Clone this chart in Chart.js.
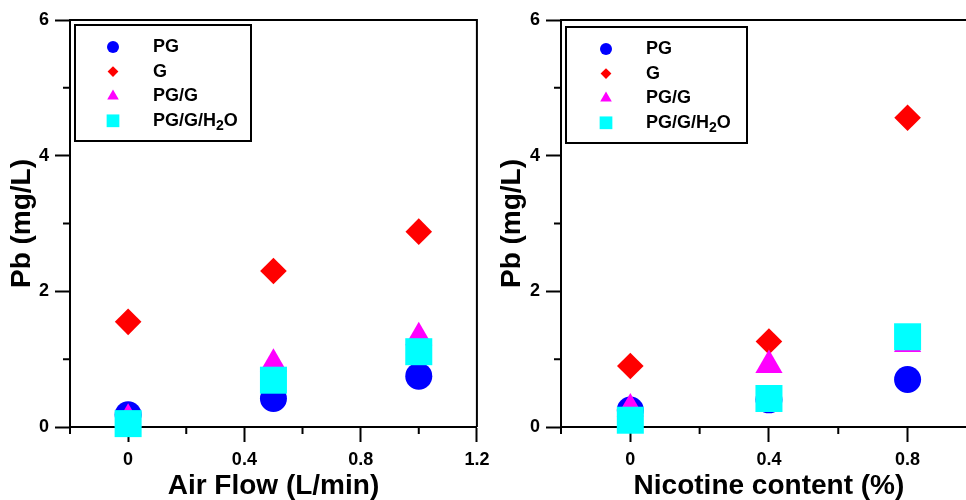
<!DOCTYPE html>
<html>
<head>
<meta charset="utf-8">
<script src="https://cdn.jsdelivr.net/npm/chart.js@4.4.1/dist/chart.umd.min.js"></script>
<style>
  html, body { margin: 0; padding: 0; background: #fff; overflow: hidden; }
  #wrap { position: relative; width: 966px; height: 500px; overflow: hidden; }
  canvas { position: absolute; top: 0; }
  #airChart { left: 0; }
  #nicChart { left: 490px; }
</style>
</head>
<body>
<div id="wrap">
  <canvas id="airChart" width="496" height="500"></canvas>
  <canvas id="nicChart" width="506" height="500"></canvas>
</div>
<script>
  // x values of both panels
  const airFlow = [0, 0.5, 1.0];
  const nicotine = [0, 0.4, 0.8];

  const seriesNames = ["PG", "G", "PG/G", "PG/G/H2O"];

  // Pb (mg/L) vs air flow
  const airPG = [0.18, 0.42, 0.75];
  const airG = [1.55, 2.3, 2.88];
  const airPGG = [0.12, 0.93, 1.32];
  const airPGGH2O = [0.05, 0.69, 1.11];

  // Pb (mg/L) vs nicotine content
  const nicPG = [0.25, 0.4, 0.7];
  const nicG = [0.9, 1.26, 4.56];
  const nicPGG = [0.27, 0.91, 1.22];
  const nicPGGH2O = [0.1, 0.42, 1.33];

  const yTicks = [0, 2, 4, 6];

  const styles = [
    { color: "#0000ff", pointStyle: "circle", radius: 13.5, legendRadius: 6, order: 3 },
    { color: "#ff0000", pointStyle: "rectRot", radius: 13.3, legendRadius: 5.4, order: 2 },
    { color: "#ff00ff", pointStyle: "triangle", radius: 15.7, legendRadius: 6.7, order: 1 },
    { color: "#00ffff", pointStyle: "rect", radius: 19.1, legendRadius: 9, order: 0 },
  ];

  const FONT = "'Liberation Sans', Arial, sans-serif";

  function makeDatasets(xs, seriesList) {
    return seriesList.map((ys, i) => ({
      label: seriesNames[i],
      data: xs.map((x, j) => ({ x: x, y: ys[j] })),
      backgroundColor: styles[i].color,
      borderWidth: 0,
      pointStyle: styles[i].pointStyle,
      pointRadius: styles[i].radius,
      pointHoverRadius: styles[i].radius,
      order: styles[i].order,
      clip: false,
    }));
  }

  function isMajorX(v) {
    return Math.abs(Math.round(v * 10) % 4) === 0;
  }
  function isMajorY(v) {
    return yTicks.includes(Math.round(v * 10) / 10);
  }

  // frame on top/right + short minor ticks
  const framePlugin = {
    id: "frame",
    beforeDatasetsDraw(chart) {
      const { ctx, chartArea, scales } = chart;
      ctx.save();
      ctx.strokeStyle = "#000";
      ctx.lineWidth = 2;
      ctx.beginPath();
      ctx.moveTo(chartArea.left, chartArea.top);
      ctx.lineTo(chartArea.right, chartArea.top);
      ctx.lineTo(chartArea.right, chartArea.bottom);
      ctx.stroke();
      ctx.beginPath();
      scales.x.ticks.forEach((t) => {
        if (isMajorX(t.value)) return;
        const px = scales.x.getPixelForValue(t.value);
        ctx.moveTo(px, chartArea.bottom);
        ctx.lineTo(px, chartArea.bottom + 7);
      });
      scales.y.ticks.forEach((t) => {
        if (isMajorY(t.value)) return;
        const py = scales.y.getPixelForValue(t.value);
        ctx.moveTo(chartArea.left, py);
        ctx.lineTo(chartArea.left - 7, py);
      });
      ctx.stroke();
      ctx.restore();
    },
  };

  // boxed legend inside the plot
  const boxLegend = {
    id: "boxLegend",
    afterDatasetsDraw(chart, args, opts) {
      const { ctx, chartArea } = chart;
      const x0 = chartArea.left + opts.dx;
      const y0 = chartArea.top + opts.dy;
      ctx.save();
      ctx.fillStyle = "#fff";
      ctx.fillRect(x0, y0, opts.w, opts.h);
      ctx.strokeStyle = "#000";
      ctx.lineWidth = 2;
      ctx.strokeRect(x0, y0, opts.w, opts.h);
      seriesNames.forEach((name, i) => {
        const cy = y0 + 22 + i * 24.6;
        ctx.fillStyle = styles[i].color;
        Chart.helpers.drawPoint(ctx, { pointStyle: styles[i].pointStyle, radius: styles[i].legendRadius, rotation: 0, borderWidth: 0 }, x0 + opts.markerX, cy);
        ctx.fillStyle = "#000";
        ctx.textBaseline = "middle";
        ctx.textAlign = "left";
        let tx = x0 + opts.textX;
        const parts = name.split("2");
        parts.forEach((p, k) => {
          ctx.font = "bold 18px " + FONT;
          ctx.fillText(p, tx, cy);
          tx += ctx.measureText(p).width;
          if (k < parts.length - 1) {
            ctx.font = "bold 14px " + FONT;
            ctx.fillText("2", tx, cy + 5);
            tx += ctx.measureText("2").width;
          }
        });
      });
      ctx.restore();
    },
  };

  function makeChart(id, xs, seriesList, xTitle, xMax, yWidth, padRight, legendOpts) {
    new Chart(document.getElementById(id), {
      type: "scatter",
      data: { datasets: makeDatasets(xs, seriesList) },
      plugins: [framePlugin, boxLegend],
      options: {
        responsive: false,
        animation: false,
        events: [],
        layout: { padding: { top: 20, right: padRight, left: 0, bottom: 0 } },
        plugins: {
          legend: { display: false },
          tooltip: { enabled: false },
          boxLegend: legendOpts,
        },
        scales: {
          x: {
            type: "linear",
            min: -0.2,
            max: xMax,
            afterFit: (s) => {
              s.height = 73;
              s.paddingLeft = 0;
              s.paddingRight = 0;
            },
            border: { display: true, color: "#000", width: 2 },
            grid: {
              display: true,
              drawOnChartArea: false,
              drawTicks: true,
              tickLength: 15,
              tickWidth: (c) => (c.tick && isMajorX(c.tick.value) ? 2 : 0),
              tickColor: (c) => (c.tick && isMajorX(c.tick.value) ? "#000" : "rgba(0,0,0,0)"),
            },
            ticks: {
              stepSize: 0.2,
              autoSkip: false,
              maxRotation: 0,
              padding: 7,
              color: "#000",
              font: { family: FONT, size: 18, weight: "bold" },
              callback: (v) => (isMajorX(v) ? String(Math.round(v * 10) / 10) : ""),
            },
            title: {
              display: true,
              text: xTitle,
              color: "#000",
              font: { family: FONT, size: 28, weight: "bold", lineHeight: 1 },
              padding: { top: 0, bottom: 0 },
            },
          },
          y: {
            type: "linear",
            min: 0,
            max: 6,
            afterFit: (s) => {
              s.width = yWidth;
              s.paddingTop = 0;
              s.paddingBottom = 0;
            },
            border: { display: true, color: "#000", width: 2 },
            grid: {
              display: true,
              drawOnChartArea: false,
              drawTicks: true,
              tickLength: 15,
              tickWidth: (c) => (c.tick && isMajorY(c.tick.value) ? 2 : 0),
              tickColor: (c) => (c.tick && isMajorY(c.tick.value) ? "#000" : "rgba(0,0,0,0)"),
            },
            ticks: {
              stepSize: 1,
              autoSkip: false,
              padding: 6,
              color: "#000",
              font: { family: FONT, size: 18, weight: "bold" },
              callback: (v) => (isMajorY(v) ? String(v) : ""),
            },
            title: {
              display: true,
              text: "Pb (mg/L)",
              color: "#000",
              font: { family: FONT, size: 28, weight: "bold", lineHeight: 1 },
              padding: { top: 8, bottom: 0 },
            },
          },
        },
      },
    });
  }

  makeChart("airChart", airFlow, [airPG, airG, airPGG, airPGGH2O], "Air Flow (L/min)", 1.2, 70, 13,
    { dx: 5, dy: 5, w: 176, h: 116, markerX: 38, textX: 78 });
  makeChart("nicChart", nicotine, [nicPG, nicG, nicPGG, nicPGGH2O], "Nicotine content (%)", 1.0, 71, 14,
    { dx: 5, dy: 7, w: 181, h: 116, markerX: 40, textX: 80 });
</script>
</body>
</html>
